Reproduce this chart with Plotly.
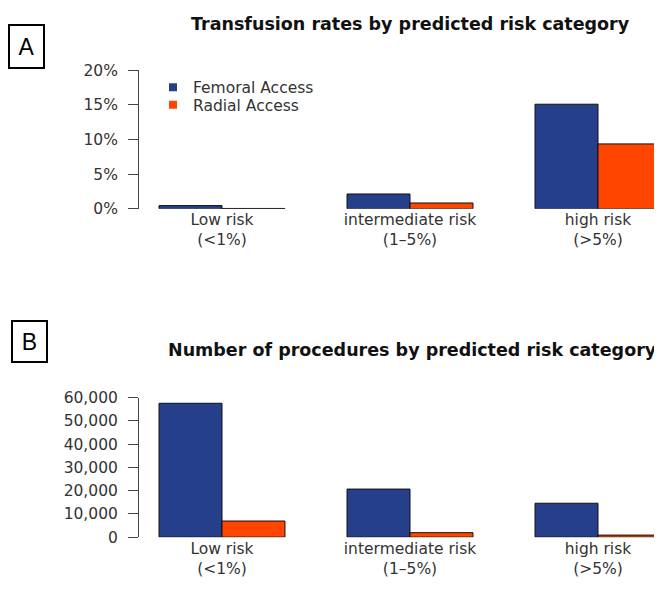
import plotly.graph_objects as go

categories = ["Low risk<br>(<1%)", "intermediate risk<br>(1\u20135%)", "high risk<br>(>5%)"]
series_names = ["Femoral Access", "Radial Access"]
transfusion_femoral = [0.46, 2.14, 15.1]
transfusion_radial = [0.05, 0.84, 9.37]
procedures_femoral = [57600, 20700, 14600]
procedures_radial = [6950, 1950, 900]
pct_ticks = [0, 5, 10, 15, 20]
pct_labels = ["0%", "5%", "10%", "15%", "20%"]
count_ticks = [0, 10000, 20000, 30000, 40000, 50000, 60000]
count_labels = ["0", "10,000", "20,000", "30,000", "40,000", "50,000", "60,000"]

# page body has an 8px margin: screen coords -> figure coords
OFF = 8
W, H = 654, 575
FEM = "#263F8A"
RAD = "#FF4500"
FONT = "DejaVu Sans, Verdana, sans-serif"
TFONT = "DejaVu Sans, Verdana, sans-serif"
LFONT = "Liberation Sans, Arial, sans-serif"
TXT = "#333333"
FS = 15.5

def fx(sx):
    return (sx - OFF) / W

def fy(sy):
    return 1 - (sy - OFF) / H

fig = go.Figure()
bar_line = dict(color="#111111", width=1)
fig.add_trace(go.Bar(x=categories, y=transfusion_femoral, name=series_names[0], showlegend=False,
                     marker=dict(color=FEM, line=bar_line), xaxis="x", yaxis="y"))
fig.add_trace(go.Bar(x=categories, y=transfusion_radial, name=series_names[1], showlegend=False,
                     marker=dict(color=RAD, line=bar_line), xaxis="x", yaxis="y"))
fig.add_trace(go.Bar(x=categories, y=procedures_femoral, name=series_names[0], showlegend=False,
                     marker=dict(color=FEM, line=bar_line), xaxis="x2", yaxis="y2"))
fig.add_trace(go.Bar(x=categories, y=procedures_radial, name=series_names[1], showlegend=False,
                     marker=dict(color=RAD, line=bar_line), xaxis="x2", yaxis="y2"))
# legend keys (small squares, as in the original), one legend box per row
for nm, col, lg in zip(series_names, [FEM, RAD], ["legend", "legend2"]):
    fig.add_trace(go.Scatter(x=[None], y=[None], mode="markers", name=nm, legend=lg,
                             marker=dict(symbol="square", size=8, color=col),
                             xaxis="x", yaxis="y"))

axis_sx = 138          # screen x of the y-axis line
c0, unit = 222, 188.0  # screen x of first group centre, px per category
xr = [(axis_sx - c0) / unit, (662 - c0) / unit]
xdom = [fx(axis_sx), 1]

axis_common = dict(showline=True, linecolor="#444444", linewidth=1, ticks="outside",
                   ticklen=10, tickcolor="#444444", ticklabelstandoff=7,
                   tickfont=dict(family=FONT, size=FS, color=TXT),
                   showgrid=False, zeroline=False, fixedrange=True)

xcommon = dict(showline=False, ticks="", showgrid=False, zeroline=False, fixedrange=True,
               tickfont=dict(family=FONT, size=FS, color=TXT), range=xr, domain=xdom)

leg_common = dict(xanchor="left", yanchor="middle", font=dict(family=FONT, size=FS, color=TXT),
                  bgcolor="rgba(0,0,0,0)", itemwidth=30)

fig.update_layout(
    width=W, height=H,
    margin=dict(l=0, r=0, t=0, b=0),
    paper_bgcolor="white", plot_bgcolor="white",
    barmode="group", bargap=0.33, bargroupgap=0,
    showlegend=True,
    legend=dict(x=fx(153), y=fy(81), **leg_common),
    legend2=dict(x=fx(153), y=fy(99), **leg_common),
    xaxis=dict(anchor="y", **xcommon),
    yaxis=dict(domain=[fy(206), fy(63)], range=[0, 20], tickvals=pct_ticks, ticktext=pct_labels,
               anchor="free", position=fx(axis_sx), **axis_common),
    xaxis2=dict(anchor="y2", **xcommon),
    yaxis2=dict(domain=[fy(545), fy(401)], range=[0, 60000], tickvals=count_ticks,
                ticktext=count_labels, anchor="free", position=fx(axis_sx), **axis_common),
    annotations=[
        dict(text="<b>Transfusion rates by predicted risk category</b>", x=fx(410), y=fy(15),
             xref="paper", yref="paper", showarrow=False, xanchor="center", yanchor="middle",
             font=dict(family=TFONT, size=17.5, color="#111111")),
        dict(text="<b>Number of procedures by predicted risk category</b>", x=fx(413), y=fy(352),
             xref="paper", yref="paper", showarrow=False, xanchor="center", yanchor="middle",
             font=dict(family=TFONT, size=17.5, color="#111111")),
        dict(text="A", x=fx(26), y=fy(38), xref="paper", yref="paper", showarrow=False,
             xanchor="center", yanchor="middle", width=33, height=41,
             bordercolor="black", borderwidth=2, borderpad=0,
             font=dict(family=LFONT, size=23, color="black")),
        dict(text="B", x=fx(30), y=fy(343), xref="paper", yref="paper", showarrow=False,
             xanchor="center", yanchor="middle", width=33, height=39,
             bordercolor="black", borderwidth=2, borderpad=0,
             font=dict(family=LFONT, size=23, color="black")),
    ],
)

fig.write_html("out.html")
